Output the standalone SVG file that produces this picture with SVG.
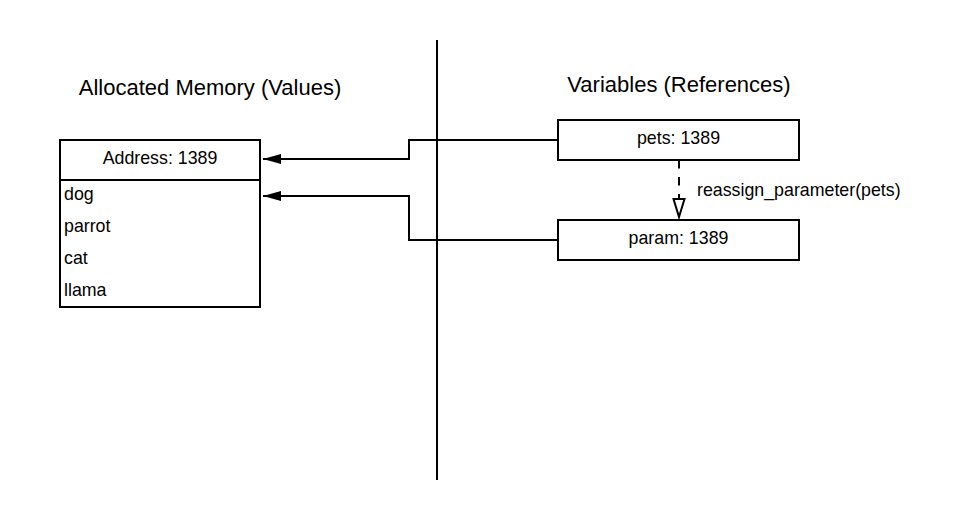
<svg xmlns="http://www.w3.org/2000/svg" width="960" height="520" viewBox="0 0 960 520">
  <style>
    text { font-family: "Liberation Sans", Arial, sans-serif; fill: #000; }
    .title { font-size: 22px; text-anchor: middle; }
    .label { font-size: 17.8px; }
    .center { text-anchor: middle; }
    .box { fill: #fff; stroke: #000; stroke-width: 2; }
    .line { fill: none; stroke: #000; stroke-width: 2; }
  </style>
  <defs>
    <marker id="arrowFilled" markerUnits="userSpaceOnUse" markerWidth="20" markerHeight="12" refX="18" refY="6" orient="auto" viewBox="0 0 20 12">
      <path d="M0,1 L18,6 L0,11 Z" fill="#000" stroke="none"/>
    </marker>
    <marker id="arrowOpen" markerUnits="userSpaceOnUse" markerWidth="22" markerHeight="16" refX="18" refY="7" orient="auto" viewBox="-1 -1 22 16">
      <path d="M0,1.5 L18,7 L0,12.5 Z" fill="#fff" stroke="#000" stroke-width="2" stroke-linejoin="miter"/>
    </marker>
  </defs>

  <rect width="960" height="520" fill="#fff"/>

  <g id="divider">
    <line x1="437" y1="40" x2="437" y2="480" class="line"/>
  </g>

  <g id="titles">
    <text class="title" x="210" y="95">Allocated Memory (Values)</text>
    <text class="title" x="679" y="92">Variables (References)</text>
  </g>

  <g id="connectors">
    <path class="line" d="M558,140 H409 V159 H263" marker-end="url(#arrowFilled)"/>
    <path class="line" d="M558,240 H409 V196 H263" marker-end="url(#arrowFilled)"/>
    <path class="line" d="M679,160 V217" stroke-dasharray="8.5 8.5" marker-end="url(#arrowOpen)"/>
    <text class="label" x="697" y="196">reassign_parameter(pets)</text>
  </g>

  <g id="memory">
    <rect class="box" x="60" y="140" width="200" height="167"/>
    <line class="line" x1="60" y1="180" x2="260" y2="180"/>
    <text class="label center" x="160" y="164">Address: 1389</text>
    <text class="label" x="64" y="200">dog</text>
    <text class="label" x="64" y="232">parrot</text>
    <text class="label" x="64" y="264">cat</text>
    <text class="label" x="64" y="296">llama</text>
  </g>

  <g id="pets">
    <rect class="box" x="558" y="120" width="241" height="40"/>
    <text class="label center" x="678.5" y="144">pets: 1389</text>
  </g>

  <g id="param">
    <rect class="box" x="558" y="220" width="241" height="40"/>
    <text class="label center" x="678.5" y="244">param: 1389</text>
  </g>
</svg>
